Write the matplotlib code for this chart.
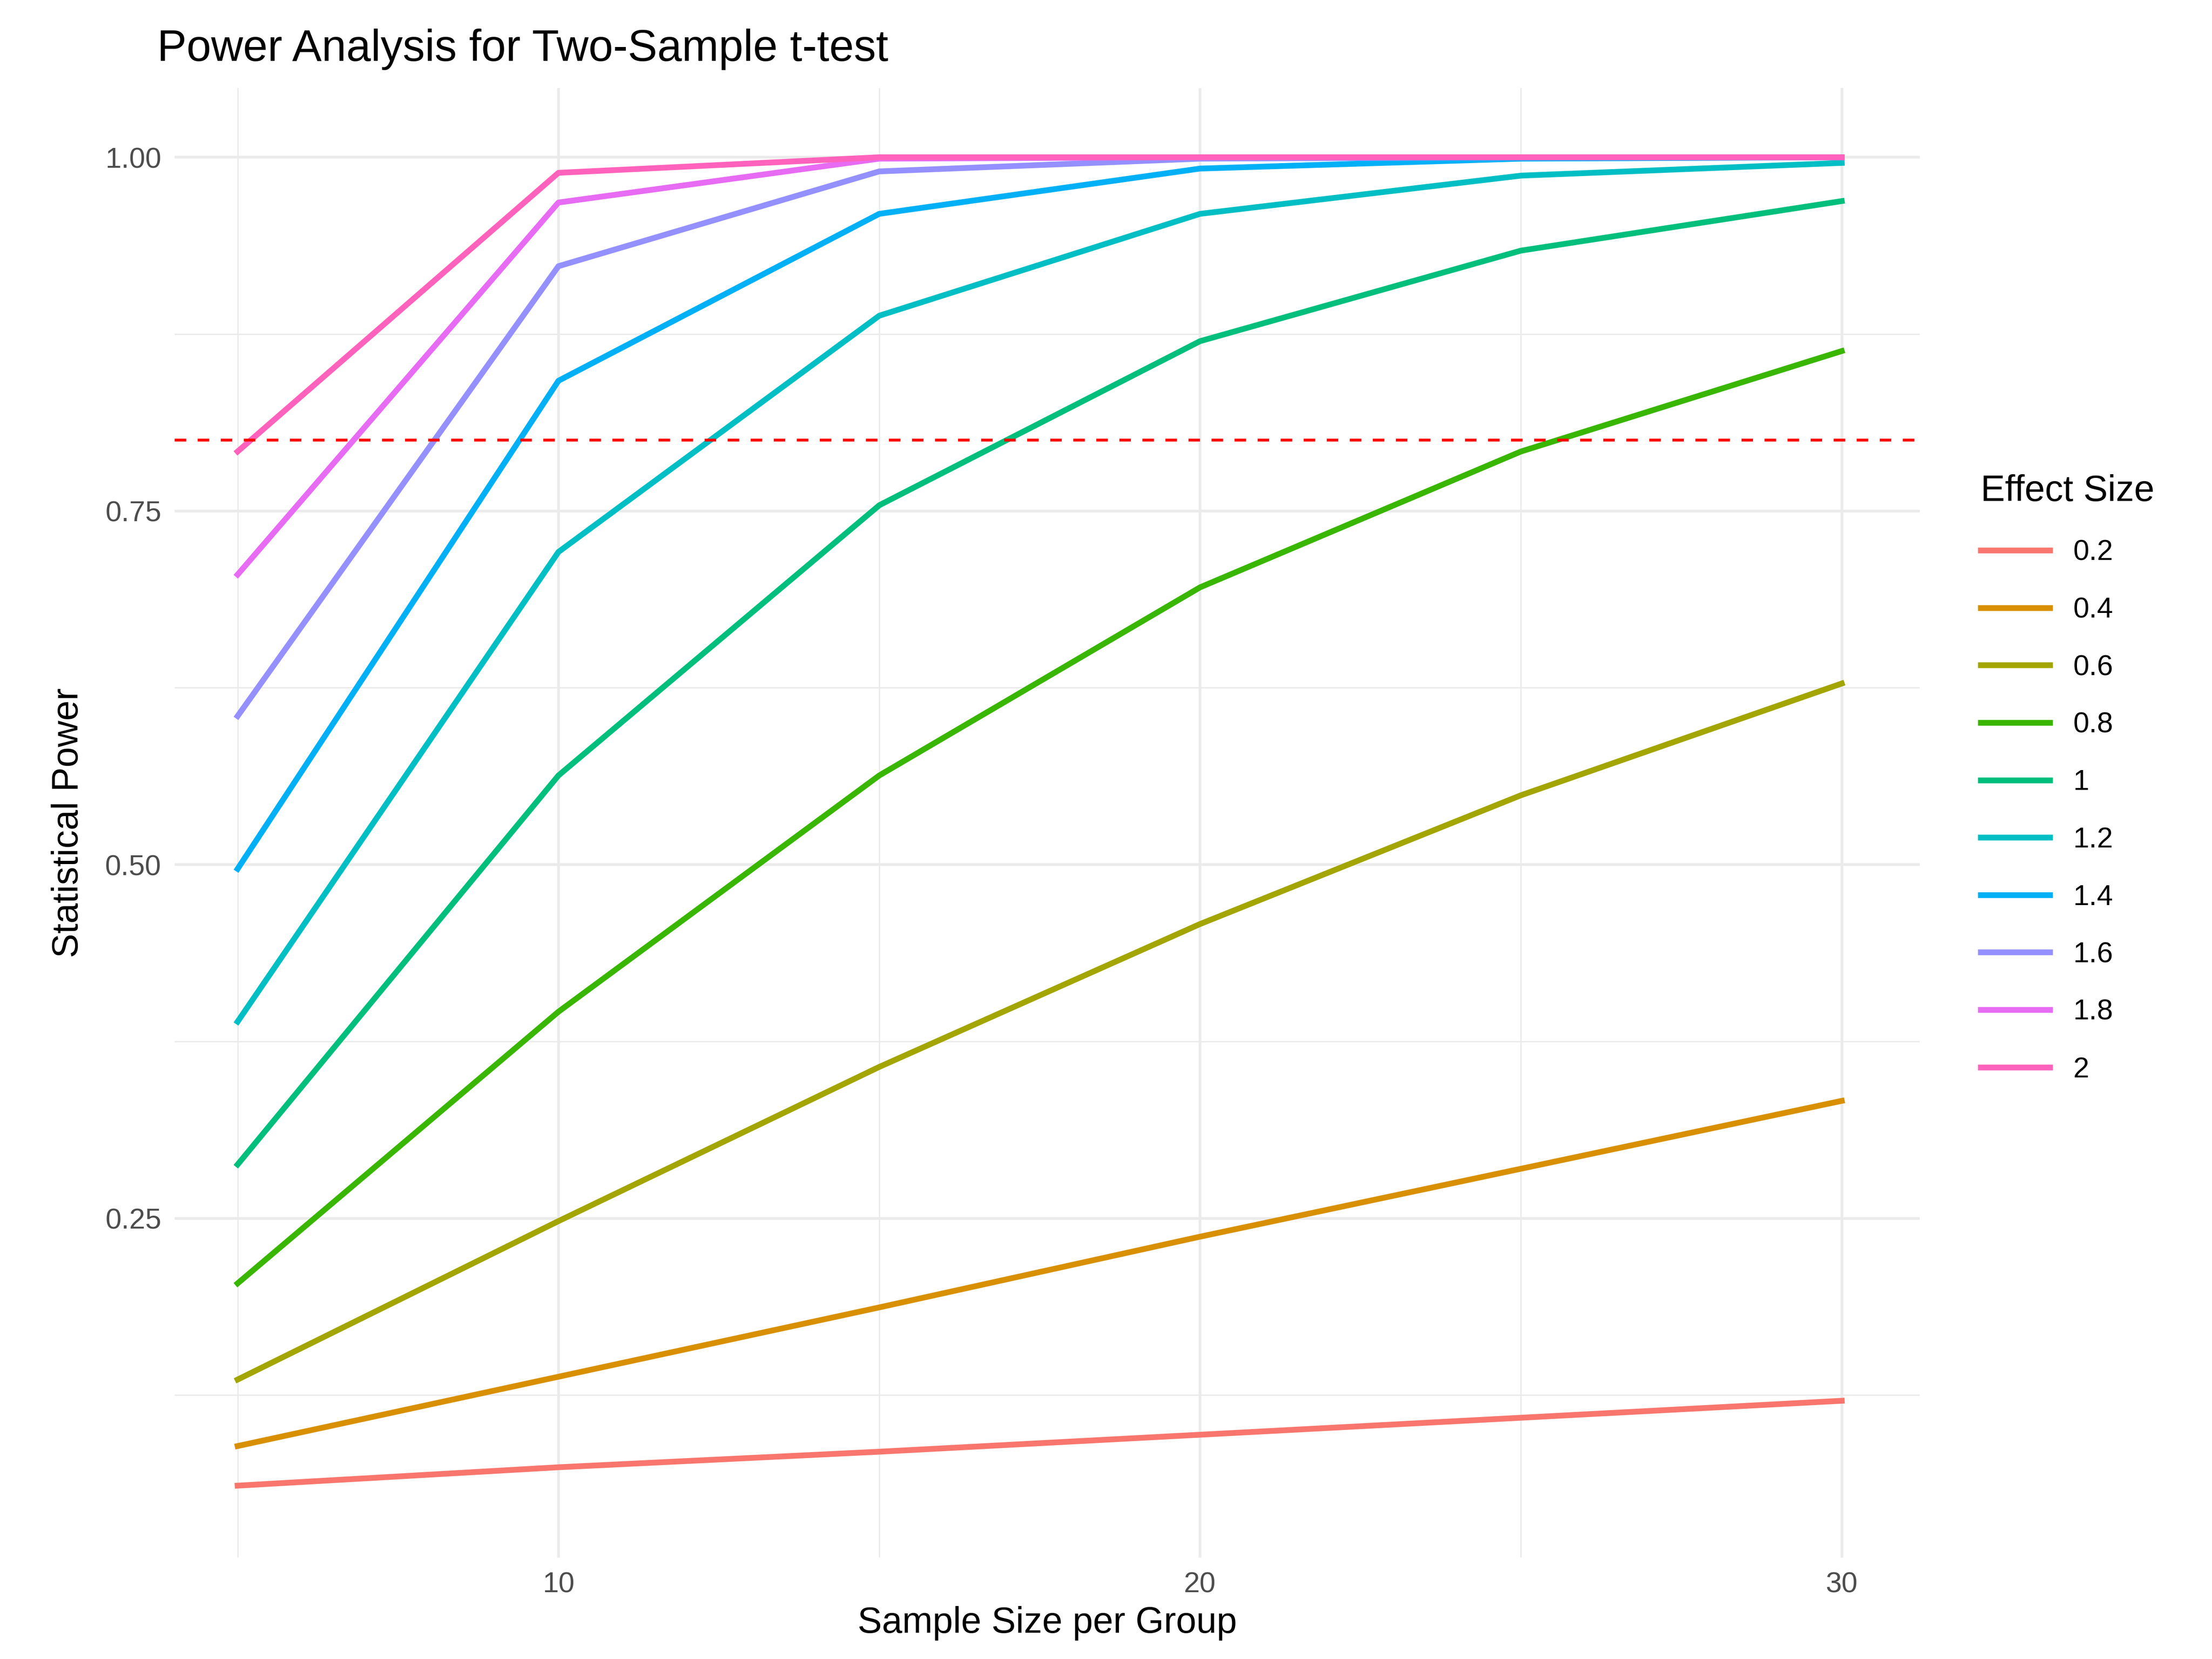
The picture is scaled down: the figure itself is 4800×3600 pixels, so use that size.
import matplotlib
matplotlib.use("Agg")
import matplotlib.pyplot as plt

sample_sizes = [5, 10, 15, 20, 25, 30]
effect_sizes = ['0.2', '0.4', '0.6', '0.8', '1', '1.2', '1.4', '1.6', '1.8', '2']
power = [
    [0.061, 0.074, 0.085, 0.097, 0.109, 0.121],
    [0.089, 0.138, 0.187, 0.237, 0.285, 0.333],
    [0.136, 0.248, 0.357, 0.458, 0.549, 0.628],
    [0.204, 0.396, 0.563, 0.696, 0.792, 0.863],
    [0.288, 0.563, 0.754, 0.870, 0.934, 0.969],
    [0.389, 0.721, 0.888, 0.960, 0.987, 0.996],
    [0.497, 0.842, 0.960, 0.992, 0.999, 1.000],
    [0.605, 0.923, 0.990, 0.999, 1.000, 1.000],
    [0.705, 0.968, 0.999, 1.000, 1.000, 1.000],
    [0.792, 0.989, 1.000, 1.000, 1.000, 1.000],
]
colors = ['#F8766D', '#D89000', '#A3A500', '#39B600', '#00BF7D',
          '#00BFC4', '#00B0F6', '#9590FF', '#E76BF3', '#FF62BC']
target_power = 0.8

plt.rcParams['font.family'] = ['Liberation Sans', 'DejaVu Sans']
fig = plt.figure(figsize=(16, 12), dpi=300)
ax = fig.add_axes([0.079, 0.061, 0.789, 0.886])

for lab, vals, c in zip(effect_sizes, power, colors):
    ax.plot(sample_sizes, vals, color=c, lw=3, label=lab)
ax.axhline(target_power, color='red', ls=(0, (4, 4)), lw=1.5)

ax.set_xlim(4.02, 31.22)
ax.set_ylim(0.010, 1.049)
ax.set_xticks([10, 20, 30])
ax.set_xticks([5, 15, 25], minor=True)
ax.set_yticks([0.25, 0.5, 0.75, 1.0])
ax.set_yticklabels(['0.25', '0.50', '0.75', '1.00'])
ax.set_yticks([0.125, 0.375, 0.625, 0.875], minor=True)
ax.grid(which='major', color='#EBEBEB', lw=1.4)
ax.grid(which='minor', color='#EBEBEB', lw=0.7)
ax.set_axisbelow(True)
for s in ax.spines.values():
    s.set_visible(False)
ax.tick_params(which='both', length=0, labelsize=15, labelcolor='#4D4D4D', pad=7)

ax.set_xlabel('Sample Size per Group', fontsize=19, labelpad=4)
ax.set_ylabel('Statistical Power', fontsize=19, labelpad=10)
ax.set_title('Power Analysis for Two-Sample t-test', fontsize=23, loc='left', x=-0.01, pad=14)

leg = ax.legend(title='Effect Size', loc='center left', bbox_to_anchor=(1.02, 0.53),
                frameon=False, fontsize=15, title_fontsize=19, handlelength=2.4,
                labelspacing=1.05, alignment='left')

fig.savefig('out.png', dpi=300)
